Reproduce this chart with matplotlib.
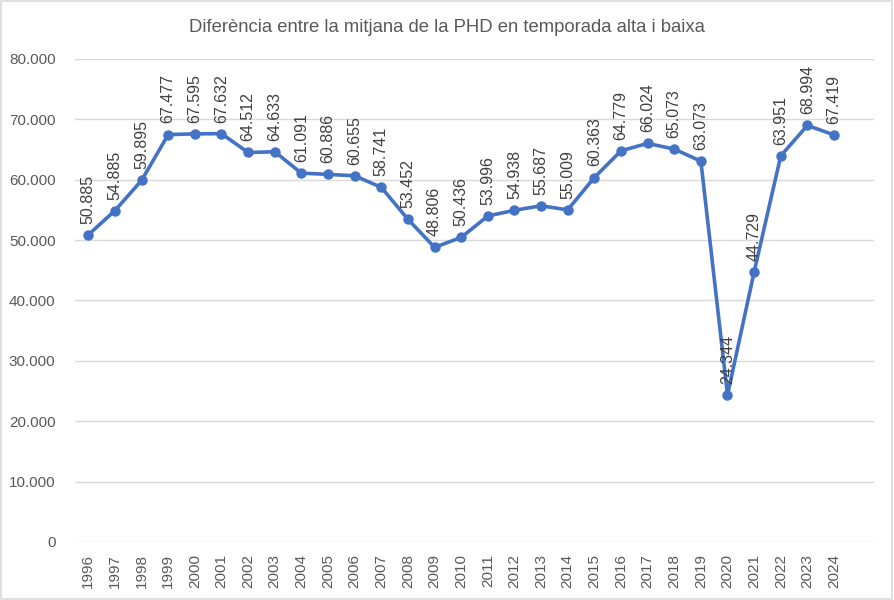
import matplotlib
matplotlib.use('Agg')
import matplotlib.pyplot as plt
from matplotlib.patches import Rectangle
from matplotlib.ticker import FuncFormatter

plt.rcParams['font.family'] = ['Liberation Sans', 'DejaVu Sans']

years = list(range(1996, 2025))
values = [50885, 54885, 59895, 67477, 67595, 67632, 64512, 64633, 61091, 60886,
          60655, 58741, 53452, 48806, 50436, 53996, 54938, 55687, 55009, 60363,
          64779, 66024, 65073, 63073, 24344, 44729, 63951, 68994, 67419]
title = 'Diferència entre la mitjana de la PHD en temporada alta i baixa'


def fmt(v):
    return '{:,}'.format(int(v)).replace(',', '.')


fig = plt.figure(figsize=(8.94, 6), dpi=100)
ax = fig.add_axes([0.0839, 0.0967, 0.8937, 0.805])

xs = list(range(len(years)))
ax.plot(xs, values, color='#4472C4', linewidth=2.6, marker='o', markersize=6.5,
        zorder=3)

for x, v in zip(xs, values):
    ax.annotate(fmt(v), (x, v), xytext=(0, 8), textcoords='offset points',
                rotation=90, ha='center', va='bottom', fontsize=11.5,
                color='#404040', zorder=4)

ax.set_ylim(0, 80000)
ax.set_yticks(range(0, 80001, 10000))
ax.yaxis.set_major_formatter(FuncFormatter(lambda v, p: fmt(v)))
ax.set_xlim(-0.5, len(years) + 0.5)
ax.set_xticks(xs)
ax.set_xticklabels([str(y) for y in years], rotation=90)
ax.tick_params(axis='both', length=0, labelsize=11, labelcolor='#595959')
ax.tick_params(axis='x', pad=9)
ax.tick_params(axis='y', pad=14)

ax.grid(axis='y', color='#D9D9D9', linewidth=1)
ax.set_axisbelow(True)
for s in ax.spines.values():
    s.set_visible(False)

fig.text(0.5, 0.955, title, ha='center', va='center', fontsize=13.3,
         color='#595959')

fig.patches.append(Rectangle((0.001, 0.002), 0.997, 0.996, transform=fig.transFigure,
                             fill=False, edgecolor='#D9D9D9', linewidth=1.2))

fig.savefig('out.png', dpi=100)
